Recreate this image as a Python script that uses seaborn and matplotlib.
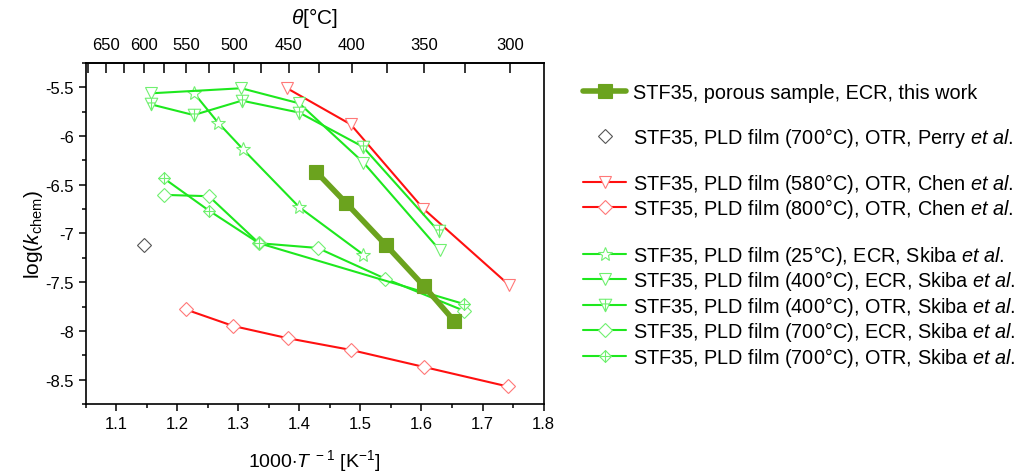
import numpy as np
import matplotlib
matplotlib.use('Agg')
import matplotlib.pyplot as plt
import seaborn as sns
from matplotlib.path import Path
from matplotlib.lines import Line2D
from matplotlib.ticker import MultipleLocator, FuncFormatter

sns.set_theme(style='ticks')
plt.rcParams['font.family'] = ['Liberation Sans', 'DejaVu Sans']
plt.rcParams['mathtext.fontset'] = 'custom'
plt.rcParams['mathtext.rm'] = 'Liberation Sans'
plt.rcParams['mathtext.it'] = 'Liberation Sans:italic'
plt.rcParams['mathtext.bf'] = 'Liberation Sans:bold'
plt.rcParams['axes.unicode_minus'] = False
for key in ['text.color', 'axes.labelcolor', 'xtick.color', 'ytick.color',
            'xtick.labelcolor', 'ytick.labelcolor', 'axes.edgecolor']:
    plt.rcParams[key] = 'black'

# ---------------- data ----------------
this_x = [1.428, 1.477, 1.542, 1.604, 1.654]
this_y = [-6.37, -6.69, -7.12, -7.54, -7.90]

perry_x = [1.146]
perry_y = [-7.12]

chen580_x = [1.380, 1.484, 1.603, 1.743]
chen580_y = [-5.51, -5.88, -6.745, -7.527]

chen800_x = [1.214, 1.292, 1.381, 1.484, 1.604, 1.741]
chen800_y = [-7.78, -7.95, -8.075, -8.195, -8.37, -8.57]

sk25_x = [1.227, 1.267, 1.308, 1.400, 1.505]
sk25_y = [-5.555, -5.863, -6.137, -6.731, -7.218]

sk400e_x = [1.157, 1.305, 1.400, 1.505, 1.630]
sk400e_y = [-5.562, -5.51, -5.665, -6.272, -7.171]

sk400o_x = [1.157, 1.227, 1.306, 1.400, 1.504, 1.628]
sk400o_y = [-5.675, -5.785, -5.637, -5.76, -6.11, -6.978]

sk700e_x = [1.178, 1.252, 1.334, 1.430, 1.541, 1.670]
sk700e_y = [-6.604, -6.618, -7.10, -7.149, -7.465, -7.794]

sk700o_x = [1.178, 1.252, 1.334, 1.670]
sk700o_y = [-6.433, -6.765, -7.10, -7.725]

labels = [
    'STF35, porous sample, ECR, this work',
    r'STF35, PLD film (700°C), OTR, Perry $\mathit{et\ al.}$',
    r'STF35, PLD film (580°C), OTR, Chen $\mathit{et\ al.}$',
    r'STF35, PLD film (800°C), OTR, Chen $\mathit{et\ al.}$',
    r'STF35, PLD film (25°C), ECR, Skiba $\mathit{et\ al.}$',
    r'STF35, PLD film (400°C), ECR, Skiba $\mathit{et\ al.}$',
    r'STF35, PLD film (400°C), OTR, Skiba $\mathit{et\ al.}$',
    r'STF35, PLD film (700°C), ECR, Skiba $\mathit{et\ al.}$',
    r'STF35, PLD film (700°C), OTR, Skiba $\mathit{et\ al.}$',
]
top_ticks = [650, 600, 550, 500, 450, 400, 350, 300]

# ---------------- custom markers ----------------
M, L, C = Path.MOVETO, Path.LINETO, Path.CLOSEPOLY
tri_plus = Path(
    [(-1, 1), (1, 1), (0, -1), (-1, 1), (0, 1), (0, -1), (-0.55, 0.25), (0.55, 0.25)],
    [M, L, L, C, M, L, M, L])
dia_plus = Path(
    [(0, 1), (1, 0), (0, -1), (-1, 0), (0, 1), (0, 1), (0, -1), (-1, 0), (1, 0)],
    [M, L, L, L, C, M, L, M, L])

GREEN = '#1ee81e'
GREEN_M = '#70f070'
RED = '#ff1010'
RED_M = '#ff7878'
OLIVE = '#6ba31e'

fig = plt.figure(figsize=(10.18, 4.77), dpi=100)
ax = fig.add_axes([0.084, 0.151, 0.450, 0.715])

handles = []

def series(x, y, color, mcolor, marker, ms, lw=1.5, mew=0.8, ls='-', z=2, mfc='white'):
    sns.lineplot(x=x, y=y, ax=ax, sort=False, estimator=None, color=color,
                 linewidth=lw, linestyle=ls, marker=marker, markersize=ms,
                 markerfacecolor=mfc, markeredgecolor=mcolor,
                 markeredgewidth=mew, legend=False, zorder=z)
    ln = ax.lines[-1]
    handles.append(ln)
    return ln

# Draw order
series(chen800_x, chen800_y, RED, RED_M, 'D', 7.5)
series(chen580_x, chen580_y, RED, RED_M, 'v', 9)
series(sk25_x, sk25_y, GREEN, GREEN_M, '*', 10.5)
series(sk400e_x, sk400e_y, GREEN, GREEN_M, 'v', 9)
series(sk400o_x, sk400o_y, GREEN, GREEN_M, tri_plus, 9)
series(sk700e_x, sk700e_y, GREEN, GREEN_M, 'D', 7.5)
series(sk700o_x, sk700o_y, GREEN, GREEN_M, dia_plus, 8.5)
series(perry_x, perry_y, 'none', '#555555', 'D', 7, ls='none')
series(this_x, this_y, OLIVE, OLIVE, 's', 10, lw=4, mfc=OLIVE, z=5)

h_chen800, h_chen580, h_sk25, h_sk400e, h_sk400o, h_sk700e, h_sk700o, h_perry, h_this = handles

ax.set_xlim(1.05, 1.8)
ax.set_ylim(-8.75, -5.25)
ax.xaxis.set_major_locator(MultipleLocator(0.1))
ax.xaxis.set_minor_locator(MultipleLocator(0.05))
ax.yaxis.set_major_locator(MultipleLocator(0.5))
ax.yaxis.set_minor_locator(MultipleLocator(0.25))
ax.xaxis.set_major_formatter(FuncFormatter(lambda v, p: f'{v:g}'))
ax.yaxis.set_major_formatter(FuncFormatter(lambda v, p: f'{v:g}'))
ax.tick_params(axis='both', which='major', direction='out', length=5, width=1.1,
               labelsize=12, color='black', labelcolor='black')
ax.tick_params(axis='both', which='minor', direction='out', length=3, width=1.1, color='black')
ax.tick_params(top=False, right=False, which='both')
for s in ax.spines.values():
    s.set_visible(True)
    s.set_color('black')
    s.set_linewidth(1.2)

ax.set_xlabel(r'1000$\cdot$$\mathit{T}^{\ -1}$ [K$^{-1}$]', fontsize=14, labelpad=12,
              color='black')
ax.set_ylabel(r'log($\mathit{k}_\mathrm{chem}$)', fontsize=15, labelpad=0, color='black')


def fwd(x):
    x = np.asarray(x, dtype=float)
    with np.errstate(divide='ignore', invalid='ignore'):
        return 1000.0 / x - 273.15


def inv(t):
    t = np.asarray(t, dtype=float)
    with np.errstate(divide='ignore', invalid='ignore'):
        return 1000.0 / (t + 273.15)


sec = ax.secondary_xaxis('top', functions=(fwd, inv))
sec.set_xticks(top_ticks)
sec.set_xticks(np.arange(300, 701, 25), minor=True)
sec.xaxis.set_major_formatter(FuncFormatter(lambda v, p: f'{v:g}'))
sec.tick_params(which='major', direction='in', length=7, width=1.1, labelsize=12, pad=8,
                color='black', labelcolor='black')
sec.tick_params(which='minor', direction='in', length=7, width=1.1, color='black')
sec.spines['top'].set_linewidth(1.2)
sec.spines['top'].set_color('black')
sec.set_xlabel(r'$\theta$[°C]', fontsize=15, labelpad=10, color='black')

blank = Line2D([], [], linestyle='none', marker=None)
leg_handles = [h_this, blank, h_perry, blank, h_chen580, h_chen800, blank,
               h_sk25, h_sk400e, h_sk400o, h_sk700e, h_sk700o]
leg_labels = [labels[0], ' ', labels[1], ' ', labels[2], labels[3], ' ',
              labels[4], labels[5], labels[6], labels[7], labels[8]]
leg = fig.legend(leg_handles, leg_labels, loc='upper left', bbox_to_anchor=(0.573, 0.823),
                 frameon=False, fontsize=14.3, handlelength=2.15, handletextpad=0.36,
                 labelspacing=0.08, borderpad=0, borderaxespad=0)
for t in leg.get_texts():
    t.set_color('black')

fig.savefig('out.png', dpi=100)
